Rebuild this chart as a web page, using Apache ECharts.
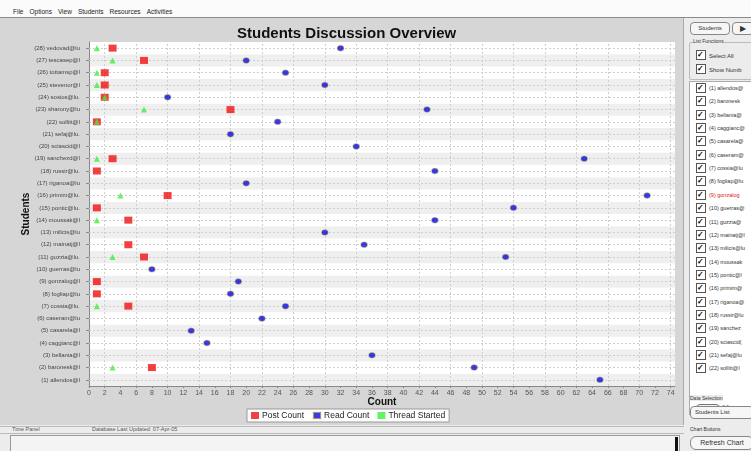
<!DOCTYPE html>
<html>
<head>
<meta charset="utf-8">
<script src="https://cdn.jsdelivr.net/npm/echarts@6/dist/echarts.min.js"></script>
<style>
  html,body{margin:0;padding:0;width:751px;height:451px;overflow:hidden;background:#f2f2f2;font-family:"Liberation Sans",Arial,sans-serif;}
  .abs{position:absolute;}
  #menu{left:0;top:0;width:751px;height:17px;background:#fbfbfb;border-bottom:1px solid #8a8a8a;font-size:6.5px;color:#222;}
  #menu span{margin-right:6px;}
  #panel{left:0;top:18px;width:683px;height:407px;background:#d6d6d6;border-right:1px solid #aaa;}
  #bottom{left:0;top:425px;width:684px;height:26px;background:#ececec;font-size:5.5px;color:#555;}
  #right{left:684px;top:18px;width:67px;height:433px;background:#ececec;font-size:5.5px;color:#333;}
  #chart{left:0;top:0;width:751px;height:451px;}
  .btn{position:absolute;border:1px solid #888;border-radius:4px;background:#f6f6f6;font-size:6px;text-align:center;}
  .grp{position:absolute;border:1px solid #bbb;border-radius:2px;}
  .cb{position:absolute;left:12px;width:8px;height:8px;border:1px solid #555;background:#fff;font-size:8px;line-height:7px;font-weight:bold;color:#000;}
  .lbl{position:absolute;left:25px;white-space:nowrap;font-size:5.5px;}
</style>
</head>
<body>
<div id="menu" class="abs"><div style="position:absolute;left:13px;top:8px;white-space:nowrap;"><span>File</span><span>Options</span><span>View</span><span>Students</span><span>Resources</span><span>Activities</span></div></div>
<div id="panel" class="abs"></div>
<div id="bottom" class="abs">
  <div style="position:absolute;left:0;top:1px;width:684px;height:6px;border-top:1px solid #bbb;border-bottom:1px solid #bbb;"></div>
  <div style="position:absolute;left:12px;top:1px;">Time Panel</div>
  <div style="position:absolute;left:92px;top:1px;">Database Last Updated: 07-Apr-05</div>
  <div style="position:absolute;left:10px;top:10px;width:668px;height:20px;background:#f4f4f4;border:1px solid #999;"></div>
  <div style="position:absolute;left:675px;top:12px;width:3px;height:16px;background:#111;"></div>
</div>
<div id="right" class="abs"></div>
<div id="chart" class="abs"></div>
<script>
// ---- data ----
var students = ["(1) allendos@l","(2) baronesk@l","(3) bellania@l","(4) caggianc@l","(5) casarela@l","(6) caseram@lu","(7) cossia@lu.","(8) fogliap@lu","(9) gonzalog@l","(10) guerras@lu","(11) guzzia@lu.","(12) mainatj@l","(13) milicis@lu","(14) moussak@l","(15) pontic@lu.","(16) primim@lu.","(17) riganoa@lu","(18) russir@lu.","(19) sanchezd@l","(20) sciascid@l","(21) sefaj@lu.","(22) sollitt@l","(23) sharony@lu","(24) sosios@lu.","(25) stevenor@l","(26) tottamsp@l","(27) tescasep@l","(28) vedovad@lu"];
var postCount =    [null,8,null,null,null,null,5,1,1,null,7,5,null,5,1,10,null,1,3,null,null,1,18,2,2,2,7,3];
var readCount =    [65,49,36,15,13,22,25,18,19,8,53,35,30,44,54,71,20,44,63,34,18,24,43,10,30,25,20,32];
var threadStarted =[null,3,null,null,null,null,1,null,null,null,3,null,null,1,null,4,null,null,1,null,null,1,7,2,1,1,3,1];
var xTickLabels = [0,2,4,6,8,10,12,14,16,18,20,22,24,26,28,30,32,34,36,38,40,42,44,46,48,50,52,54,56,58,60,62,64,66,68,70,72,74];
var gridLinesX = [2,6,10,14,18,22,26,30,34,38,42,46,50,54,58,62,66,70,74];
var listNames = ["(1) allendos@","(2) baronesk","(3) bellania@","(4) caggianc@","(5) casarela@","(6) caseram@","(7) cossia@lu","(8) fogliap@lu","(9) gonzalog","(10) guerras@","(11) guzzia@","(12) mainatj@l","(13) milicis@lu","(14) moussak","(15) pontic@l","(16) primim@","(17) riganoa@","(18) russir@lu","(19) sanchez","(20) sciascid(","(21) sefaj@lu","(22) sollitt@l"];

// ---- right side panel ----
(function(){
  var r = document.getElementById('right');
  var h = '';
  h += '<div class="btn" style="left:6px;top:4px;width:38px;height:11px;line-height:11px;">Students</div>';
  h += '<div class="btn" style="left:48px;top:4px;width:20px;height:11px;line-height:11px;font-size:8px;">&#9654;</div>';
  h += '<div class="grp" style="left:5px;top:24px;width:62px;height:36px;"></div>';
  h += '<div style="position:absolute;left:9px;top:20px;background:#ececec;font-size:5px;">List Functions</div>';
  h += '<div class="cb" style="top:32px;">&#10003;</div><div class="lbl" style="top:35px;font-size:6px;">Select All</div>';
  h += '<div class="cb" style="top:46px;">&#10003;</div><div class="lbl" style="top:49px;font-size:6px;">Show Numb</div>';
  h += '<div style="position:absolute;left:5px;top:63px;width:62px;height:332px;background:#fff;border:1px solid #aaa;"></div>';
  for (var i=0;i<listNames.length;i++){
    var y = 65 + i*13.35;
    h += '<div class="cb" style="top:'+y+'px;">&#10003;</div>';
    h += '<div class="lbl" style="top:'+(y+2)+'px;'+(i===8?'color:#e02020;':'')+'">'+listNames[i]+'</div>';
  }
  h += '<div style="position:absolute;left:12px;top:386px;width:22px;height:6px;border:1px solid #777;border-radius:4px;background:#f4f4f4;"></div>';
  h += '<div style="position:absolute;left:38px;top:385px;font-size:5px;">&lt; &gt;</div>';
  h += '<div style="position:absolute;left:6px;top:377px;background:#ececec;font-size:5px;">Data Selection</div>';
  h += '<div class="btn" style="left:6px;top:388px;width:58px;height:11px;line-height:11px;text-align:left;padding-left:4px;font-size:6px;">Students List</div>';
  h += '<div style="position:absolute;left:6px;top:408px;background:#ececec;font-size:5px;">Chart Buttons</div>';
  h += '<div class="btn" style="left:6px;top:418px;width:62px;height:12px;line-height:12px;border-radius:6px;font-size:7px;">Refresh Chart</div>';
  r.innerHTML = h;
})();

// ---- chart ----
var chart = echarts.init(document.getElementById('chart'), null, {renderer:'canvas'});
function pairs(arr){ return arr.map(function(v,i){ return v==null ? null : [v, students[i]]; }).filter(function(d){return d;}); }
var font = '"Liberation Sans", Arial, sans-serif';
chart.setOption({
  backgroundColor: 'transparent',
  animation: false,
  title: {
    text: 'Students Discussion Overview',
    left: 232, top: 21,
    textStyle: {fontFamily: font, fontSize: 15, fontWeight: 'bold', color: '#111'}
  },
  legend: {
    left: 247, top: 409,
    backgroundColor: '#fff', borderColor: '#999', borderWidth: 1, borderRadius: 0,
    padding: [2, 4, 2, 4],
    itemWidth: 8, itemHeight: 7, itemGap: 8,
    icon: 'rect',
    textStyle: {fontFamily: font, fontSize: 8.5, color: '#222', padding: [0,0,0,-2]},
    data: ['Post Count', 'Read Count', 'Thread Started']
  },
  grid: {left: 89, top: 42, width: 586, height: 344, show: true, backgroundColor: '#fff', borderWidth: 0},
  xAxis: {
    type: 'value', min: 0, max: 74.55, interval: 2,
    name: 'Count', nameLocation: 'middle', nameGap: 11, nameMoveOverlap: false,
    nameTextStyle: {fontFamily: font, fontSize: 10, fontWeight: 'bold', color: '#111'},
    axisLine: {show: true, lineStyle: {color: '#888'}},
    axisTick: {show: true, length: 2, lineStyle: {color: '#888'}},
    axisLabel: {fontFamily: font, fontSize: 7, color: '#555', margin: 4, showMaxLabel: false,
      formatter: function(v){ return xTickLabels.indexOf(v) >= 0 ? String(v) : ''; }},
    splitLine: {show: false}
  },
  yAxis: {
    type: 'category', data: students, boundaryGap: true,
    name: 'Students', nameLocation: 'middle', nameGap: 58, nameRotate: 90, nameMoveOverlap: false,
    nameTextStyle: {fontFamily: font, fontSize: 10, fontWeight: 'bold', color: '#111'},
    axisLine: {show: true, lineStyle: {color: '#888'}},
    axisTick: {show: true, alignWithLabel: true, length: 3, lineStyle: {color: '#888'}},
    axisLabel: {fontFamily: font, fontSize: 6, color: '#444', margin: 9},
    splitLine: {show: false},
    splitArea: {show: true, areaStyle: {color: ['#efefef', '#ffffff']}}
  },
  series: [
    {
      name: 'gridlines', type: 'scatter', data: [], z: 1, silent: true,
      markLine: {
        silent: true, symbol: 'none', label: {show: false}, z: 1,
        lineStyle: {color: '#cfcfcf', type: [2, 2], width: 1},
        data: gridLinesX.map(function(v){ return {xAxis: v}; }).concat(students.map(function(s){ return {yAxis: s}; }))
      }
    },
    {
      name: 'Post Count', type: 'scatter', data: pairs(postCount),
      symbol: 'rect', symbolSize: [8, 7],
      itemStyle: {color: '#f01010'}, z: 3
    },
    {
      name: 'Read Count', type: 'scatter', data: pairs(readCount),
      symbol: 'circle', symbolSize: [7, 6],
      itemStyle: {color: '#0a0ad8', borderColor: 'rgba(255,240,120,0.6)', borderWidth: 1}, z: 4
    },
    {
      name: 'Thread Started', type: 'scatter', data: pairs(threadStarted),
      symbol: 'triangle', symbolSize: 6,
      itemStyle: {color: '#3cf03c'}, z: 5
    }
  ]
});
</script>
</body>
</html>
